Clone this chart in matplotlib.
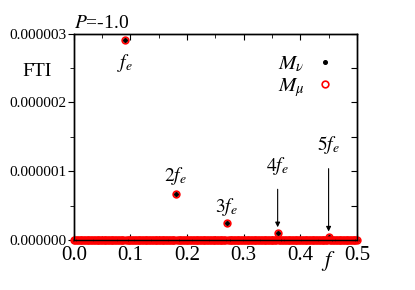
import numpy as np
import matplotlib
matplotlib.use("Agg")
from matplotlib import pyplot as plt
from matplotlib.ticker import MultipleLocator, FormatStrFormatter
import matplotlib.transforms as mtransforms

plt.rcParams["font.family"] = "Liberation Serif"
plt.rcParams["mathtext.fontset"] = "stix"

# spectrum sampled on a frequency grid; harmonics of f_e stand out from the floor
freq_step = 0.0025
freq = np.arange(0, 0.5 + freq_step / 2, freq_step)
floor_level = 4e-9
peak_freq = [0.09, 0.18, 0.27, 0.36, 0.45]
peak_nu = [2.91e-6, 0.665e-6, 0.25e-6, 0.107e-6, 0.045e-6]
peak_mu = [2.91e-6, 0.665e-6, 0.25e-6, 0.107e-6, 0.045e-6]
peak_labels = ["$f_e$", "$2f_e$", "$3f_e$", "$4f_e$", "$5f_e$"]

fti_nu = np.full(freq.shape, floor_level)
fti_mu = np.full(freq.shape, floor_level)
for pf, vn, vm in zip(peak_freq, peak_nu, peak_mu):
    i = int(round(pf / freq_step))
    fti_nu[i] = vn
    fti_mu[i] = vm

fig = plt.figure(figsize=(4.15, 2.9), dpi=100)
ax = fig.add_axes([0.178, 0.172, 0.682, 0.712])

ax.plot(freq, fti_nu, "o", ms=2.6, color="black", label=r"$M_\nu$", zorder=3,
        clip_on=False)
ax.plot(freq, fti_mu, "o", ms=4.8, mfc="none", mec="red", mew=1.2,
        label=r"$M_\mu$", zorder=4, clip_on=False)

ax.set_xlim(0, 0.5)
ax.set_ylim(0, 3e-6)
ax.xaxis.set_major_locator(MultipleLocator(0.1))
ax.xaxis.set_minor_locator(MultipleLocator(0.05))
ax.yaxis.set_major_locator(MultipleLocator(1e-6))
ax.yaxis.set_minor_locator(MultipleLocator(0.5e-6))
ax.xaxis.set_major_formatter(FormatStrFormatter("%.1f"))
ax.yaxis.set_major_formatter(FormatStrFormatter("%.6f"))
ax.tick_params(axis="x", which="both", direction="in", top=True, labelsize=15, pad=4)
ax.tick_params(axis="x", which="major", length=4)
ax.tick_params(axis="x", which="minor", length=3)
ax.tick_params(axis="y", which="both", direction="out", labelsize=11, pad=1)
ax.tick_params(axis="y", which="major", length=4)
ax.tick_params(axis="y", which="minor", length=3)

# right-side ticks point inward
ax2 = ax.twinx()
ax2.set_ylim(ax.get_ylim())
ax2.yaxis.set_major_locator(MultipleLocator(0.5e-6))
ax2.tick_params(axis="y", direction="in", length=4, labelright=False)

for spine in list(ax.spines.values()) + list(ax2.spines.values()):
    spine.set_linewidth(1.0)

# harmonic labels
ax.text(0.09, 2.57e-6, peak_labels[0], ha="center", va="center", fontsize=14)
ax.text(0.18, 0.93e-6, peak_labels[1], ha="center", va="center", fontsize=14)
ax.text(0.27, 0.48e-6, peak_labels[2], ha="center", va="center", fontsize=14)
ax.annotate(peak_labels[3], xy=(0.36, peak_nu[3] + 0.08e-6), xytext=(0.36, 1.08e-6),
            ha="center", va="center", fontsize=14,
            arrowprops=dict(arrowstyle="-|>", color="black", lw=0.8,
                            shrinkA=7, shrinkB=0, mutation_scale=7))
ax.annotate(peak_labels[4], xy=(0.45, peak_nu[4] + 0.08e-6), xytext=(0.45, 1.38e-6),
            ha="center", va="center", fontsize=14,
            arrowprops=dict(arrowstyle="-|>", color="black", lw=0.8,
                            shrinkA=7, shrinkB=0, mutation_scale=7))

# x label sits among the tick labels
trans = mtransforms.blended_transform_factory(ax.transData, ax.transAxes)
ax.text(0.45, -0.045, "$f$", transform=trans, ha="center", va="top", fontsize=16)

ax.text(0.0, 1.01, "$P$=-1.0", transform=ax.transAxes, ha="left", va="bottom",
        fontsize=14)
fig.text(0.055, 0.755, "FTI", ha="left", va="center", fontsize=14)

handles, labels = ax.get_legend_handles_labels()
ax.legend(handles, labels, loc="upper right", markerfirst=False,
          frameon=False, fontsize=15, handlelength=0.8, handletextpad=0.6,
          labelspacing=0.1, borderaxespad=0.3, bbox_to_anchor=(0.97, 0.97))

fig.savefig("out.png", dpi=100)
